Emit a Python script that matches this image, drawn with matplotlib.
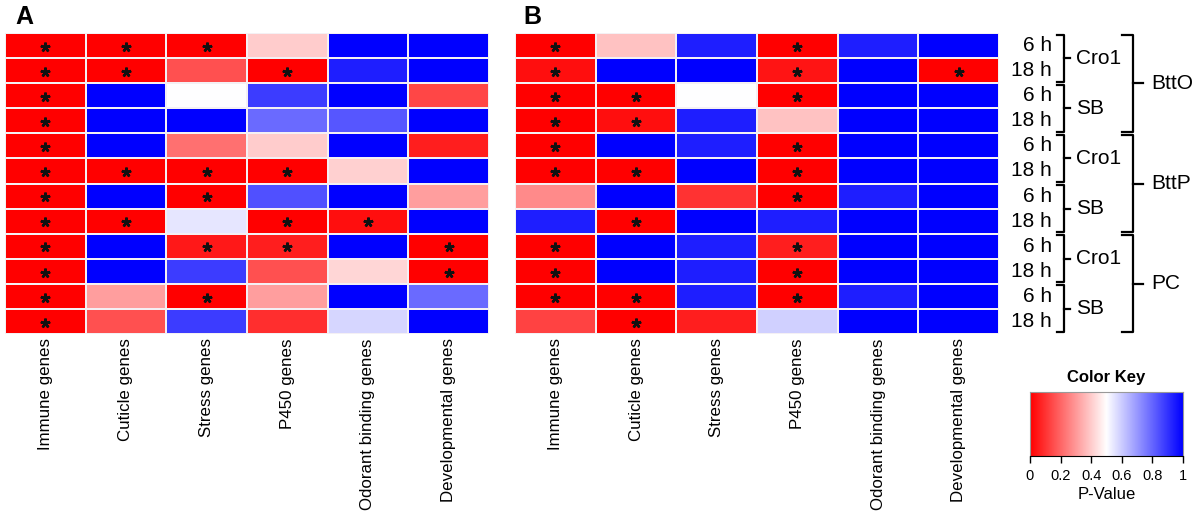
import matplotlib.pyplot as plt
import numpy as np
from matplotlib.colors import LinearSegmentedColormap

plt.rcParams['font.family'] = ['Liberation Sans', 'DejaVu Sans']

genes = ['Immune genes', 'Cuticle genes', 'Stress genes', 'P450 genes',
         'Odorant binding genes', 'Developmental genes']
times = ['6 h', '18 h'] * 6
strains = ['Cro1', 'SB'] * 3
groups = ['BttO', 'BttP', 'PC']

# p-values (rows top to bottom)
pval_a = np.array([
    [0.00, 0.00, 0.00, 0.40, 1.00, 1.00],
    [0.00, 0.00, 0.16, 0.00, 0.94, 1.00],
    [0.00, 1.00, 0.50, 0.88, 1.00, 0.14],
    [0.00, 1.00, 1.00, 0.79, 0.83, 1.00],
    [0.00, 1.00, 0.22, 0.40, 1.00, 0.06],
    [0.00, 0.00, 0.00, 0.00, 0.41, 1.00],
    [0.00, 1.00, 0.00, 0.84, 1.00, 0.31],
    [0.00, 0.00, 0.55, 0.00, 0.03, 1.00],
    [0.00, 1.00, 0.05, 0.06, 1.00, 0.00],
    [0.00, 1.00, 0.88, 0.16, 0.42, 0.00],
    [0.00, 0.31, 0.00, 0.31, 1.00, 0.79],
    [0.00, 0.16, 0.88, 0.09, 0.58, 1.00],
])
pval_b = np.array([
    [0.00, 0.38, 0.94, 0.00, 0.94, 1.00],
    [0.03, 1.00, 1.00, 0.04, 1.00, 0.00],
    [0.00, 0.00, 0.50, 0.00, 1.00, 1.00],
    [0.00, 0.03, 0.94, 0.38, 1.00, 1.00],
    [0.00, 1.00, 0.94, 0.00, 1.00, 1.00],
    [0.00, 0.00, 1.00, 0.00, 1.00, 1.00],
    [0.27, 1.00, 0.10, 0.00, 0.94, 1.00],
    [0.94, 0.00, 1.00, 0.94, 1.00, 1.00],
    [0.00, 1.00, 0.94, 0.06, 1.00, 1.00],
    [0.00, 1.00, 0.94, 0.00, 1.00, 1.00],
    [0.00, 0.00, 0.94, 0.00, 0.94, 1.00],
    [0.13, 0.00, 0.06, 0.59, 1.00, 1.00],
])
sig_a = np.array([
    [1, 1, 1, 0, 0, 0],
    [1, 1, 0, 1, 0, 0],
    [1, 0, 0, 0, 0, 0],
    [1, 0, 0, 0, 0, 0],
    [1, 0, 0, 0, 0, 0],
    [1, 1, 1, 1, 0, 0],
    [1, 0, 1, 0, 0, 0],
    [1, 1, 0, 1, 1, 0],
    [1, 0, 1, 1, 0, 1],
    [1, 0, 0, 0, 0, 1],
    [1, 0, 1, 0, 0, 0],
    [1, 0, 0, 0, 0, 0],
])
sig_b = np.array([
    [1, 0, 0, 1, 0, 0],
    [1, 0, 0, 1, 0, 1],
    [1, 1, 0, 1, 0, 0],
    [1, 1, 0, 0, 0, 0],
    [1, 0, 0, 1, 0, 0],
    [1, 1, 0, 1, 0, 0],
    [0, 0, 0, 1, 0, 0],
    [0, 1, 0, 0, 0, 0],
    [1, 0, 0, 1, 0, 0],
    [1, 0, 0, 1, 0, 0],
    [1, 1, 0, 1, 0, 0],
    [0, 1, 0, 0, 0, 0],
])

cmap = LinearSegmentedColormap.from_list('rwb', ['#ff0000', '#ffffff', '#0000ff'])

W, H = 1200, 516
fig = plt.figure(figsize=(12, 5.16), dpi=100)


def box(x0, y0, x1, y1):
    # pixel box -> figure fraction
    return [x0 / W, 1 - y1 / H, (x1 - x0) / W, (y1 - y0) / H]


def heat(ax, pv, sig):
    nr, nc = pv.shape
    ax.pcolormesh(np.arange(nc + 1), np.arange(nr + 1), pv, cmap=cmap,
                  vmin=0, vmax=1, edgecolor='#f4f0f4', linewidth=1.3)
    ax.set_xlim(0, nc)
    ax.set_ylim(nr, 0)
    rr, cc = np.nonzero(sig)
    # asterisks for significant cells
    ax.plot(cc + 0.5, rr + 0.55, linestyle='none', marker=(5, 2, 0),
            markersize=7, markeredgewidth=1.8, color='#111111')
    ax.set_xticks(np.arange(nc) + 0.5)
    ax.set_xticklabels(genes, rotation=90, fontsize=12.2, va='top')
    ax.tick_params(length=0, pad=3)
    ax.set_yticks([])
    for s in ax.spines.values():
        s.set_visible(False)


axA = fig.add_axes(box(5, 33, 489, 334))
heat(axA, pval_a, sig_a)
axB = fig.add_axes(box(515, 33, 999, 334))
heat(axB, pval_b, sig_b)
fig.text(15 / W, 1 - 24 / H, 'A', fontsize=18, fontweight='bold', va='baseline')
fig.text(523 / W, 1 - 24 / H, 'B', fontsize=18, fontweight='bold', va='baseline')

# right side labels with brackets, x in pixels from 1000
axR = fig.add_axes(box(1000, 33, 1200, 334))
axR.set_xlim(0, 200)
axR.set_ylim(12, 0)
axR.axis('off')
for i, t in enumerate(times):
    axR.text(52, i + 0.5, t, ha='right', va='center', fontsize=15)
lw = 1.6
for k, s in enumerate(strains):
    y0, y1 = 2 * k + 0.06, 2 * k + 1.94
    axR.plot([57, 64, 64, 57], [y0, y0, y1, y1], color='black', lw=lw)
    axR.plot([64, 70], [2 * k + 1, 2 * k + 1], color='black', lw=lw)
    axR.text(76, 2 * k + 1, s, ha='left', va='center', fontsize=15)
for k, g in enumerate(groups):
    y0, y1 = 4 * k + 0.06, 4 * k + 3.94
    axR.plot([122, 133, 133, 122], [y0, y0, y1, y1], color='black', lw=lw)
    axR.plot([133, 143], [4 * k + 2, 4 * k + 2], color='black', lw=lw)
    axR.text(151, 4 * k + 2, g, ha='left', va='center', fontsize=15)

# colour key
axK = fig.add_axes(box(1030, 392, 1183, 456))
grad = np.linspace(0, 1, 256).reshape(1, -1)
axK.imshow(grad, cmap=cmap, aspect='auto', extent=[0, 1, 0, 1])
axK.set_yticks([])
axK.set_xticks([0, 0.2, 0.4, 0.6, 0.8, 1])
axK.set_xticklabels(['0', '0.2', '0.4', '0.6', '0.8', '1'], fontsize=10.5)
axK.tick_params(axis='x', length=5, width=1, pad=4)
for s in axK.spines.values():
    s.set_color('#999999')
axK.spines['bottom'].set_color('black')
axK.set_xlabel('P-Value', fontsize=12, labelpad=3)
axK.set_title('Color Key', fontsize=12, fontweight='bold', pad=7)

fig.savefig('out.png', dpi=100)
